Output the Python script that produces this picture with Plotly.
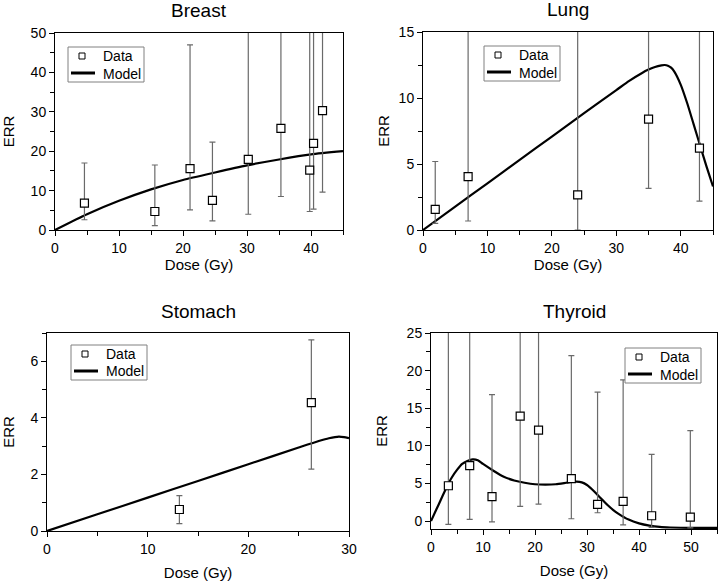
import plotly.graph_objects as go

# ---------------- data ----------------
breast_dose = [4.6, 15.6, 21.1, 24.6, 30.2, 35.3, 39.8, 40.4, 41.8]
breast_err = [6.8, 4.7, 15.6, 7.5, 17.9, 25.8, 15.2, 22.0, 30.3]
breast_lo = [2.6, 1.1, 5.1, 2.3, 4.0, 8.5, 4.7, 5.3, 9.6]
breast_hi = [17.0, 16.5, 47.0, 22.3, 70.0, 70.0, 70.0, 70.0, 70.0]
breast_model_dose = [0, 5, 10, 15, 20, 25, 30, 35, 40, 45]
breast_model_err = [0, 4.0, 7.4, 10.3, 12.7, 14.6, 16.4, 17.9, 19.2, 20.0]

lung_dose = [1.9, 7.0, 24.0, 35.0, 42.9]
lung_err = [1.57, 4.05, 2.66, 8.4, 6.2]
lung_lo = [0.5, 0.68, 0.0, 3.16, 2.18]
lung_hi = [5.19, 20.0, 20.0, 20.0, 20.0]
lung_model_dose = [0, 5, 10, 15, 20, 25, 30, 32, 34, 35, 36, 37, 37.5, 38, 38.5, 39, 40,
                   41, 42, 43, 44, 45]
lung_model_err = [0, 1.77, 3.54, 5.31, 7.08, 8.85, 10.6, 11.3, 11.9, 12.15, 12.35, 12.47,
                  12.5, 12.45, 12.3, 12.0, 11.0, 9.6, 8.0, 6.4, 4.8, 3.3]

stomach_dose = [13.15, 26.26]
stomach_err = [0.76, 4.54]
stomach_lo = [0.26, 2.19]
stomach_hi = [1.25, 6.76]
stomach_model_dose = [0, 5, 10, 15, 20, 25, 27, 28, 29, 29.5, 30]
stomach_model_err = [0, 0.59, 1.18, 1.77, 2.36, 2.95, 3.18, 3.28, 3.34, 3.32, 3.28]

thyroid_dose = [3.34, 7.44, 11.73, 17.15, 20.68, 26.99, 32.03, 36.95, 42.43, 49.87]
thyroid_err = [4.7, 7.37, 3.24, 13.94, 12.08, 5.64, 2.22, 2.62, 0.71, 0.53]
thyroid_lo = [-0.44, 0.22, -0.09, 1.95, 2.26, 0.31, 1.11, -0.49, -0.84, -0.89]
thyroid_hi = [40.0, 40.0, 16.8, 40.0, 40.0, 21.98, 17.14, 18.78, 8.88, 12.03]
thyroid_model_dose = [0, 1, 2, 3, 4, 5, 6, 7, 8, 9, 10, 12, 14, 16, 18, 20, 22, 24, 26, 27,
                      28, 29, 30, 31, 32, 33, 34, 35, 36, 38, 40, 42, 44, 46, 50, 55]
thyroid_model_err = [0, 1.5, 3.0, 4.5, 5.8, 6.8, 7.6, 8.0, 8.2, 8.1, 7.6, 6.7, 5.9, 5.4, 5.1,
                     4.9, 4.85, 4.9, 5.1, 5.2, 5.25, 5.15, 4.8, 4.2, 3.5, 2.8, 2.1, 1.5, 1.0,
                     0.2, -0.3, -0.6, -0.78, -0.85, -0.9, -0.9]

titles = ["Breast", "Lung", "Stomach", "Thyroid"]
legend_labels = ["Data", "Model"]

W, H = 720, 583
FONT = "Liberation Sans, Arial, Helvetica, sans-serif"

panels = [
    dict(dose=breast_dose, err=breast_err, lo=breast_lo, hi=breast_hi,
         mdose=breast_model_dose, merr=breast_model_err,
         px=(55, 343), py=(33, 230), xr=[0, 45], yr=[0, 50], xd=10, xm=5, yd=10, ym=5,
         leg=(68, 47), ystand=13, xstand=3),
    dict(dose=lung_dose, err=lung_err, lo=lung_lo, hi=lung_hi,
         mdose=lung_model_dose, merr=lung_model_err,
         px=(423, 713), py=(32, 230), xr=[0, 45], yr=[0, 15], xd=10, xm=5, yd=5, ym=2.5,
         leg=(484, 46), ystand=5, xstand=3),
    dict(dose=stomach_dose, err=stomach_err, lo=stomach_lo, hi=stomach_hi,
         mdose=stomach_model_dose, merr=stomach_model_err,
         px=(47, 349), py=(333, 531), xr=[0, 30], yr=[0, 7], xd=10, xm=5, yd=2, ym=1,
         leg=(71, 345), ystand=13, xstand=11),
    dict(dose=thyroid_dose, err=thyroid_err, lo=thyroid_lo, hi=thyroid_hi,
         mdose=thyroid_model_dose, merr=thyroid_model_err,
         px=(431, 717), py=(333, 529), xr=[0, 55], yr=[-1.05, 25], xd=10, xm=5, yd=5, ym=2.5,
         leg=(625, 348), ystand=15, xstand=11),
]

fig = go.Figure()
annotations = []
shapes = []
layout = dict(
    width=W, height=H, margin=dict(l=0, r=0, t=0, b=0),
    paper_bgcolor="white", plot_bgcolor="white",
    font=dict(family=FONT, size=14, color="black", weight="normal"),
    showlegend=False,
)


def px2x(v):
    return v / W


def px2y(v):
    return 1 - v / H


for i, p in enumerate(panels):
    n = i + 1
    xa = "x" if n == 1 else f"x{n}"
    ya = "y" if n == 1 else f"y{n}"
    fig.add_trace(go.Scatter(
        x=p["mdose"], y=p["merr"], mode="lines", name="Model",
        line=dict(color="black", width=2.2, shape="spline", smoothing=0.6),
        xaxis=xa, yaxis=ya,
    ))
    plus = [h - v for h, v in zip(p["hi"], p["err"])]
    minus = [v - l for v, l in zip(p["err"], p["lo"])]
    fig.add_trace(go.Scatter(
        x=p["dose"], y=p["err"], mode="markers", name="Data",
        marker=dict(symbol="square", size=8, color="white",
                    line=dict(color="black", width=1.2)),
        error_y=dict(type="data", symmetric=False, array=plus, arrayminus=minus,
                     color="#6a6a6a", thickness=1.2, width=3),
        xaxis=xa, yaxis=ya,
    ))
    xdom = [px2x(p["px"][0]), px2x(p["px"][1])]
    ydom = [px2y(p["py"][1]), px2y(p["py"][0])]
    common = dict(showgrid=False, zeroline=False, showline=True, linecolor="black",
                  linewidth=1, mirror=True, ticks="outside", ticklen=5, tickwidth=1,
                  tickcolor="black", tickfont=dict(size=14), automargin=False)
    layout["xaxis" if n == 1 else f"xaxis{n}"] = dict(
        common, domain=xdom, range=p["xr"], anchor=ya, tick0=0, dtick=p["xd"],
        minor=dict(ticks="outside", tick0=0, dtick=p["xm"], ticklen=4, tickcolor="black",
                   showgrid=False),
        title=dict(text="Dose (Gy)", font=dict(size=15), standoff=p["xstand"]),
    )
    layout["yaxis" if n == 1 else f"yaxis{n}"] = dict(
        common, domain=ydom, range=p["yr"], anchor=xa, tick0=0, dtick=p["yd"],
        minor=dict(ticks="outside", tick0=0, dtick=p["ym"], ticklen=4, tickcolor="black",
                   showgrid=False),
        title=dict(text="ERR", font=dict(size=15), standoff=p["ystand"]),
    )
    # panel title
    annotations.append(dict(
        text=titles[i], x=px2x((p["px"][0] + p["px"][1]) / 2),
        y=px2y(p["py"][0] - 22), xref="paper", yref="paper",
        xanchor="center", yanchor="middle", showarrow=False,
        font=dict(size=19, weight="normal"),
    ))
    # legend box (drawn manually to match the compact original legend)
    lx, ly = p["leg"]
    shapes.append(dict(type="rect", xref="paper", yref="paper",
                       x0=px2x(lx), x1=px2x(lx + 76), y0=px2y(ly), y1=px2y(ly + 35),
                       line=dict(color="#808080", width=1), fillcolor="white", layer="above"))
    shapes.append(dict(type="rect", xref="paper", yref="paper",
                       x0=px2x(lx + 11), x1=px2x(lx + 17), y0=px2y(ly + 6), y1=px2y(ly + 12),
                       line=dict(color="black", width=1), fillcolor="white", layer="above"))
    shapes.append(dict(type="line", xref="paper", yref="paper",
                       x0=px2x(lx + 3), x1=px2x(lx + 27), y0=px2y(ly + 26), y1=px2y(ly + 26),
                       line=dict(color="black", width=3), layer="above"))
    for k, lab in enumerate(legend_labels):
        annotations.append(dict(
            text=lab, x=px2x(lx + 33), y=px2y(ly + 9 + 17.5 * k), xref="paper", yref="paper",
            xanchor="left", yanchor="middle", showarrow=False, font=dict(size=14),
        ))

layout["annotations"] = annotations
layout["shapes"] = shapes
fig.update_layout(**layout)
fig.write_html("out.html", config={"displayModeBar": False},
               post_script="document.body.style.margin='0px';")
